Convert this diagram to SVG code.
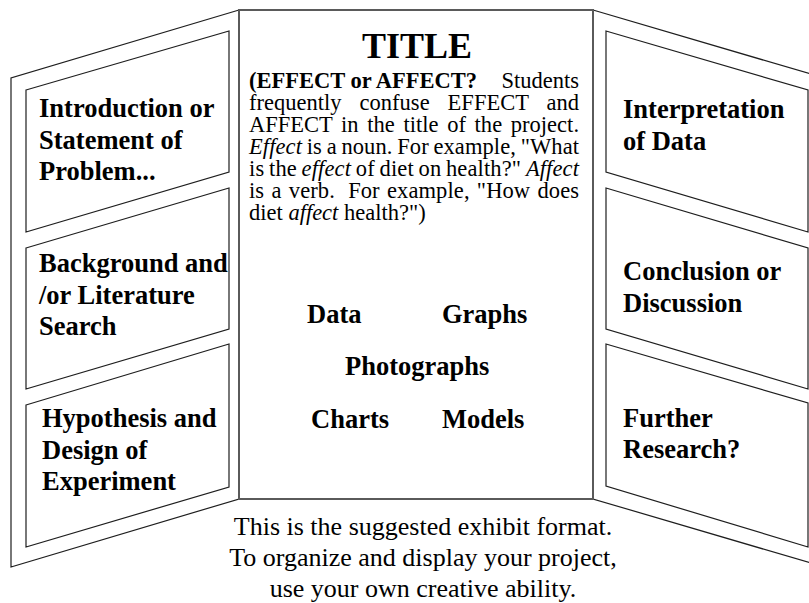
<svg xmlns="http://www.w3.org/2000/svg" width="809" height="603" viewBox="0 0 809 603">
  <defs>
    <style>
      .wing { fill: #ffffff; stroke: #1e1e1e; stroke-width: 1.2; stroke-linejoin: miter; }
      .pane { fill: #ffffff; stroke: #1e1e1e; stroke-width: 1.2; }
      .centre { fill: #ffffff; stroke: #5a5a5a; stroke-width: 2; }
      .lbl { font-family: "Liberation Serif", "Times New Roman", serif; font-weight: bold; font-size: 26.5px; fill: #000; }
      .title { font-family: "Liberation Serif", "Times New Roman", serif; font-weight: bold; font-size: 36px; fill: #000; }
      .para { font-family: "Liberation Serif", "Times New Roman", serif; font-size: 22.5px; fill: #000; }
      .foot { font-family: "Liberation Serif", "Times New Roman", serif; font-size: 26px; fill: #000; }
      .b { font-weight: bold; }
      .i { font-style: italic; }
    </style>
  </defs>

  <rect x="0" y="0" width="809" height="603" fill="#ffffff"/>

  <!-- board frame: two angled wings and the centre panel -->
  <g id="board">
    <polygon class="wing" points="239,10 11,78 11,567 239,499"/>
    <polygon class="wing" points="593,10 821,77 821,566 593,499"/>
    <rect class="centre" x="239" y="10" width="354" height="489"/>
  </g>

  <!-- left wing panes -->
  <g id="intro">
    <polygon class="pane" points="26,90 229,31 229,172 26,232"/>
    <text class="lbl" x="39" y="117">Introduction or</text>
    <text class="lbl" x="39" y="148.5">Statement of</text>
    <text class="lbl" x="39" y="180">Problem...</text>
  </g>
  <g id="background">
    <polygon class="pane" points="26,248 229,188 229,329 26,389"/>
    <text class="lbl" x="39" y="272">Background and</text>
    <text class="lbl" x="39" y="303.5">/or Literature</text>
    <text class="lbl" x="39" y="335">Search</text>
  </g>
  <g id="hypothesis">
    <polygon class="pane" points="26,405 229,344 229,487 26,547"/>
    <text class="lbl" x="42" y="427">Hypothesis and</text>
    <text class="lbl" x="42" y="458.5">Design of</text>
    <text class="lbl" x="42" y="490">Experiment</text>
  </g>

  <!-- right wing panes -->
  <g id="interpretation">
    <polygon class="pane" points="606,31 808,90 808,232 606,172"/>
    <text class="lbl" x="623" y="118">Interpretation</text>
    <text class="lbl" x="623" y="150">of Data</text>
  </g>
  <g id="conclusion">
    <polygon class="pane" points="606,188 808,248 808,389 606,329"/>
    <text class="lbl" x="623" y="280">Conclusion or</text>
    <text class="lbl" x="623" y="312">Discussion</text>
  </g>
  <g id="further">
    <polygon class="pane" points="606,344 808,403 808,547 606,486"/>
    <text class="lbl" x="623" y="427">Further</text>
    <text class="lbl" x="623" y="458">Research?</text>
  </g>

  <!-- centre panel content -->
  <g id="title">
    <text class="title" x="417" y="58" text-anchor="middle">TITLE</text>
    <text class="para b" x="249" y="87.5">(EFFECT or AFFECT?</text>
    <text class="para" x="579" y="87.5" text-anchor="end">Students</text>
    <text class="para" x="249" y="109.5" word-spacing="12.3" textLength="330" lengthAdjust="spacing">frequently confuse EFFECT and</text>
    <text class="para" x="249" y="131.5" word-spacing="3" textLength="330" lengthAdjust="spacing">AFFECT in the title of the project.</text>
    <text class="para" x="249" y="153.5" word-spacing="-1" textLength="330" lengthAdjust="spacing"><tspan class="i">Effect</tspan> is a noun. For example, "What</text>
    <text class="para" x="249" y="175.5" word-spacing="-1" textLength="330" lengthAdjust="spacing">is the <tspan class="i">effect</tspan> of diet on health?" <tspan class="i">Affect</tspan></text>
    <text class="para" x="249" y="197.5" word-spacing="1.5" textLength="330" lengthAdjust="spacing">is a verb.<tspan dx="6"> For</tspan> example, "How does</text>
    <text class="para" x="249" y="219.5">diet <tspan class="i">affect</tspan> health?")</text>
  </g>
  <g id="exhibits">
    <text class="lbl" x="307" y="323">Data</text>
    <text class="lbl" x="442" y="323">Graphs</text>
    <text class="lbl" x="345" y="375">Photographs</text>
    <text class="lbl" x="311" y="428">Charts</text>
    <text class="lbl" x="442" y="428">Models</text>
  </g>

  <!-- note under the board -->
  <g id="caption">
    <text class="foot" x="423" y="535" text-anchor="middle">This is the suggested exhibit format.</text>
    <text class="foot" x="423" y="566" text-anchor="middle">To organize and display your project,</text>
    <text class="foot" x="423" y="597" text-anchor="middle">use your own creative ability.</text>
  </g>

  <g id="connectors"/>
</svg>
